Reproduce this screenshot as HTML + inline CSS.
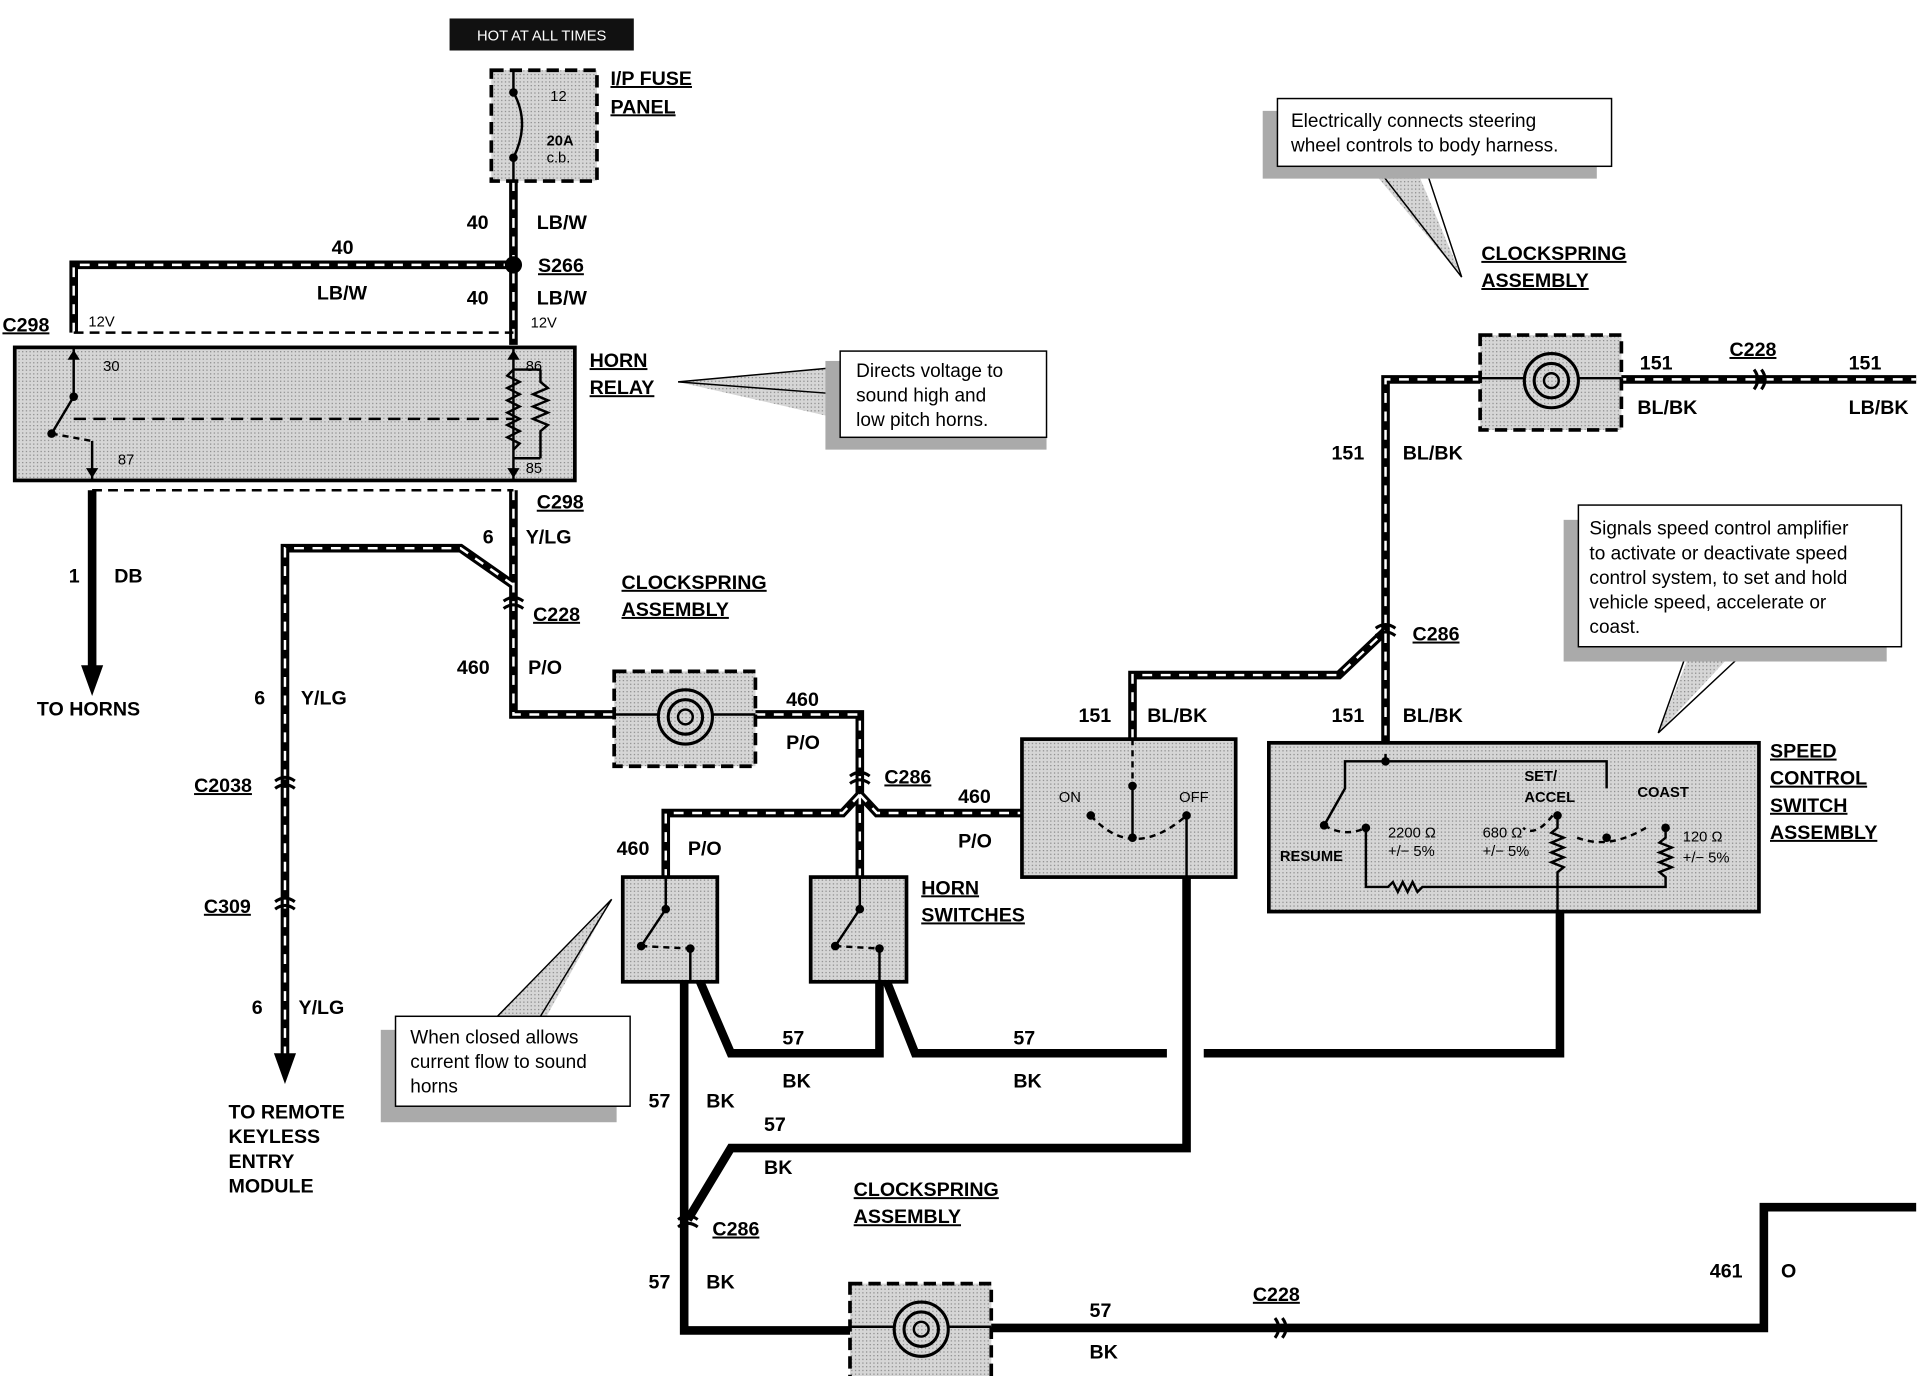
<!DOCTYPE html>
<html><head><meta charset="utf-8"><style>
html,body{margin:0;padding:0;background:#fff;}
svg{display:block;}
text{font-family:"Liberation Sans",Arial,sans-serif;fill:#000;}
.b{font-weight:bold;font-size:16px;}
.u{text-decoration:underline;}
.s{font-size:12px;}
.c{font-size:15.5px;}
</style></head><body>
<svg width="1926" height="1376" viewBox="0 0 1568 1117" preserveAspectRatio="none" xmlns="http://www.w3.org/2000/svg">
<defs>
<pattern id="dot" width="3" height="3" patternUnits="userSpaceOnUse"><rect width="3" height="3" fill="#d6d6d6"/><rect width="1" height="1" fill="#888"/></pattern>
</defs>
<rect width="1568" height="1117" fill="#fff"/>

<g fill="none" stroke-linejoin="miter">
<g stroke="#000" stroke-width="7">
<path d="M418 147 V280 M60 270 V215 H418"/>
<path d="M418 398 V580 H500 M418 475 L375 445 H232 V860"/>
<path d="M615 580 H700 V660 M700 645 L686 660 H542 V712 M700 645 V712 M700 645 L714 660 H832"/>
<path d="M922 600 V548 H1090 L1128 512 M1128 612 V308 H1205 M1316 308 H1560"/>
</g>
<g stroke="#fff" stroke-width="2" stroke-dasharray="8 7">
<path d="M418 147 V280 M60 270 V215 H418"/>
<path d="M418 398 V580 H500 M418 475 L375 445 H232 V860"/>
<path d="M615 580 H700 V660 M700 645 L686 660 H542 V712 M700 645 V712 M700 645 L714 660 H832"/>
<path d="M922 600 V548 H1090 L1128 512 M1128 612 V308 H1205 M1316 308 H1560"/>
</g>
<g stroke="#000" stroke-width="7">
<path d="M75 398 V545"/>
<path d="M557 797 V1080 H692 M806 1078 H1436 V980 H1560"/>
<path d="M570 797 L595 855 H716 V797 M722 797 L745 855 H950 M980 855 H1270 V740"/>
<path d="M966 712 V932 H595 L560 990"/>
</g>
</g>
<polygon points="66,540 84,540 75,565" fill="#000"/>
<polygon points="223,855 241,855 232,880" fill="#000"/>
<g stroke="#000" stroke-width="2" stroke-dasharray="8 5" fill="none">
<path d="M60 270 H418 M75 398 H418"/>
</g>

<g fill="none" stroke="#000" stroke-width="2.5">
<path d="M410 488 Q418 482 426 488 M410 494 Q418 488 426 494"/>
<path d="M224 634 Q232 628 240 634 M224 640 Q232 634 240 640"/>
<path d="M224 732 Q232 726 240 732 M224 738 Q232 732 240 738"/>
<path d="M692 630 Q700 624 708 630 M692 636 Q700 630 708 636"/>
<path d="M1120 510 Q1128 504 1136 510 M1120 516 Q1128 510 1136 516"/>
<path d="M552 990 Q560 984 568 990 M552 996 Q560 990 568 996"/>
<path d="M1428 300 Q1434 308 1428 316 M1434 300 Q1440 308 1434 316"/>
<path d="M1038 1070 Q1044 1078 1038 1086 M1044 1070 Q1050 1078 1044 1086"/>
</g>
<circle cx="418" cy="215" r="7" fill="#000"/>

<rect x="366" y="15" width="150" height="26" fill="#111"/>
<text x="441" y="33" text-anchor="middle" font-size="12" style="fill:#fff">HOT AT ALL TIMES</text>

<rect x="400" y="57" width="86" height="90" fill="url(#dot)" stroke="#000" stroke-width="3" stroke-dasharray="10 5"/>
<path d="M418 57 V75 M418 128 V147" stroke="#000" stroke-width="2"/>
<path d="M418 75 Q432 100 418 128" fill="none" stroke="#000" stroke-width="2"/>
<circle cx="418" cy="75" r="3.5"/><circle cx="418" cy="128" r="3.5"/>
<text x="448" y="82" class="s">12</text><text x="445" y="118" class="s" font-weight="bold">20A</text><text x="445" y="132" class="s">c.b.</text>
<text x="497" y="69" class="b u">I/P FUSE</text><text x="497" y="92" class="b u">PANEL</text>

<text x="380" y="186" class="b">40</text><text x="437" y="186" class="b">LB/W</text>
<text x="270" y="206" class="b">40</text><text x="258" y="243" class="b">LB/W</text>
<text x="380" y="247" class="b">40</text><text x="437" y="247" class="b">LB/W</text>
<text x="438" y="221" class="b u">S266</text>
<text x="2" y="269" class="b u">C298</text>
<text x="72" y="265" class="s">12V</text><text x="432" y="266" class="s">12V</text>

<rect x="12" y="282" width="456" height="108" fill="url(#dot)" stroke="#000" stroke-width="3"/>
<g stroke="#000" stroke-width="2" fill="none">
<path d="M60 282 V322 L42 352 M75 358 V390"/>
<path d="M42 352 L75 358" stroke-dasharray="5 4"/>
<path d="M418 282 V390 M418 300 H440 M418 372 H440 M440 300 V310 l6 5 l-12 5 l12 5 l-12 5 l12 5 l-12 5 l12 5 l-6 5 V372"/>
<path d="M418 300 l-5 5 l10 5 l-10 5 l10 5 l-10 5 l10 5 l-10 5 l10 5 l-10 5 l10 5 l-10 5 l10 5 l-5 5" />
<path d="M60 340 H418" stroke-dasharray="10 6"/>
</g>
<circle cx="60" cy="322" r="3.5"/><circle cx="42" cy="352" r="3.5"/>
<polygon points="55,292 65,292 60,284"/><polygon points="70,380 80,380 75,388"/>
<polygon points="413,292 423,292 418,284"/><polygon points="413,380 423,380 418,388"/>
<text x="84" y="301" class="s">30</text><text x="96" y="377" class="s">87</text>
<text x="428" y="301" class="s">86</text><text x="428" y="384" class="s">85</text>
<text x="480" y="298" class="b u">HORN</text><text x="480" y="320" class="b u">RELAY</text>

<polygon points="552,310 684,298 684,340" fill="url(#dot)"/>
<path d="M552 310 L684 298 M552 310 L684 320" stroke="#000" stroke-width="1.2" fill="none"/>
<rect x="672" y="293" width="180" height="72" fill="#aaa"/>
<rect x="684" y="285" width="168" height="70" fill="#fff" stroke="#000" stroke-width="1.2"/>
<text x="697" y="306" class="c">Directs voltage to</text>
<text x="697" y="326" class="c">sound  high  and</text>
<text x="697" y="346" class="c">low pitch horns.</text>

<text x="437" y="413" class="b u">C298</text>
<text x="393" y="441" class="b">6</text><text x="428" y="441" class="b">Y/LG</text>
<text x="56" y="473" class="b">1</text><text x="93" y="473" class="b">DB</text>
<text x="30" y="581" class="b">TO HORNS</text>
<text x="434" y="504" class="b u">C228</text>
<text x="372" y="547" class="b">460</text><text x="430" y="547" class="b">P/O</text>
<text x="506" y="478" class="b u">CLOCKSPRING</text><text x="506" y="500" class="b u">ASSEMBLY</text>
<text x="207" y="572" class="b">6</text><text x="245" y="572" class="b">Y/LG</text>
<text x="158" y="643" class="b u">C2038</text>
<text x="166" y="741" class="b u">C309</text>
<text x="205" y="823" class="b">6</text><text x="243" y="823" class="b">Y/LG</text>
<text x="186" y="908" class="b">TO REMOTE</text><text x="186" y="928" class="b">KEYLESS</text><text x="186" y="948" class="b">ENTRY</text><text x="186" y="968" class="b">MODULE</text>

<g id="cs">
<rect x="500" y="545" width="115" height="77" fill="url(#dot)" stroke="#000" stroke-width="3" stroke-dasharray="10 5"/>
<path d="M500 580 H536 M580 580 H615" stroke="#000" stroke-width="2"/>
<circle cx="558" cy="582" r="22" fill="none" stroke="#000" stroke-width="2.5"/>
<circle cx="558" cy="582" r="14" fill="none" stroke="#000" stroke-width="2.5"/>
<circle cx="558" cy="582" r="6" fill="none" stroke="#000" stroke-width="2"/>
</g>
<use href="#cs" transform="translate(705,-273)"/>
<use href="#cs" transform="translate(192,497)"/>

<text x="640" y="573" class="b">460</text><text x="640" y="608" class="b">P/O</text>
<text x="720" y="636" class="b u">C286</text>
<text x="780" y="652" class="b">460</text><text x="780" y="688" class="b">P/O</text>
<text x="502" y="694" class="b">460</text><text x="560" y="694" class="b">P/O</text>

<g stroke="#000" stroke-width="3">
<rect x="507" y="712" width="77" height="85" fill="url(#dot)"/>
<rect x="660" y="712" width="78" height="85" fill="url(#dot)"/>
</g>
<g stroke="#000" stroke-width="2" fill="none">
<path d="M542 712 V738 L522 768 M562 770 V797"/>
<path d="M522 768 L562 770" stroke-dasharray="5 4"/>
<path d="M700 712 V738 L680 768 M716 770 V797"/>
<path d="M680 768 L716 770" stroke-dasharray="5 4"/>
</g>
<circle cx="542" cy="738" r="3.5"/><circle cx="522" cy="768" r="3.5"/><circle cx="562" cy="770" r="3.5"/>
<circle cx="700" cy="738" r="3.5"/><circle cx="680" cy="768" r="3.5"/><circle cx="716" cy="770" r="3.5"/>
<text x="750" y="726" class="b u">HORN</text><text x="750" y="748" class="b u">SWITCHES</text>

<polygon points="498,730 405,825 445,825" fill="url(#dot)"/>
<path d="M498 730 L405 825 M498 730 L440 825" stroke="#000" stroke-width="1.2" fill="none"/>
<rect x="310" y="836" width="192" height="75" fill="#aaa"/>
<rect x="322" y="825" width="191" height="73" fill="#fff" stroke="#000" stroke-width="1.2"/>
<text x="334" y="847" class="c">When  closed  allows</text>
<text x="334" y="867" class="c">current flow to sound</text>
<text x="334" y="887" class="c">horns</text>

<rect x="832" y="600" width="174" height="112" fill="url(#dot)" stroke="#000" stroke-width="3"/>
<g stroke="#000" stroke-width="2" fill="none">
<path d="M922 600 V638 M888 662 Q922 700 966 662" stroke-dasharray="5 4"/>
<path d="M922 638 V680 M966 662 V712"/>
</g>
<circle cx="922" cy="638" r="3.5"/><circle cx="888" cy="662" r="3.5"/><circle cx="966" cy="662" r="3.5"/><circle cx="922" cy="680" r="3.5"/>
<text x="862" y="651" class="s">ON</text><text x="960" y="651" class="s">OFF</text>
<text x="878" y="586" class="b">151</text><text x="934" y="586" class="b">BL/BK</text>
<text x="1084" y="586" class="b">151</text><text x="1142" y="586" class="b">BL/BK</text>
<text x="1150" y="520" class="b u">C286</text>
<text x="1084" y="373" class="b">151</text><text x="1142" y="373" class="b">BL/BK</text>
<text x="1335" y="300" class="b">151</text><text x="1333" y="336" class="b">BL/BK</text>
<text x="1408" y="289" class="b u">C228</text>
<text x="1505" y="300" class="b">151</text><text x="1505" y="336" class="b">LB/BK</text>
<text x="1206" y="211" class="b u">CLOCKSPRING</text><text x="1206" y="233" class="b u">ASSEMBLY</text>

<polygon points="1190,225 1110,130 1150,130" fill="url(#dot)"/>
<path d="M1190 225 L1120 135 M1190 225 L1160 135" stroke="#000" stroke-width="1.2" fill="none"/>
<rect x="1028" y="90" width="272" height="55" fill="#aaa"/>
<rect x="1040" y="80" width="272" height="55" fill="#fff" stroke="#000" stroke-width="1.2"/>
<text x="1051" y="103" class="c">Electrically   connects   steering</text>
<text x="1051" y="123" class="c">wheel controls to body harness.</text>

<rect x="1033" y="603" width="399" height="137" fill="url(#dot)" stroke="#000" stroke-width="3"/>
<g stroke="#000" stroke-width="2" fill="none">
<path d="M1128 612 V618 H1095 V640 L1078 670 M1128 618 H1308 V640"/>
<path d="M1078 670 Q1095 680 1112 672 M1284 680 Q1310 690 1340 672 M1264 662 Q1250 680 1240 672" stroke-dasharray="5 4"/>
<path d="M1112 672 V720 H1130 l4 -4 l4 8 l4 -8 l4 8 l4 -8 l4 8 l4 -4 H1268 V740"/>
<path d="M1268 662 V672 l-5 4 l10 4 l-10 4 l10 4 l-10 4 l10 4 l-10 4 l10 4 l-5 4 V720"/>
<path d="M1356 672 V680 l-5 4 l10 4 l-10 4 l10 4 l-10 4 l10 4 l-10 4 l5 4 V720 H1268"/>
</g>
<circle cx="1128" cy="618" r="3.5"/><circle cx="1078" cy="670" r="3.5"/><circle cx="1112" cy="672" r="3.5"/>
<circle cx="1268" cy="662" r="3.5"/><circle cx="1308" cy="680" r="3.5"/><circle cx="1356" cy="672" r="3.5"/>
<text x="1042" y="699" class="s" font-weight="bold">RESUME</text>
<text x="1130" y="680" class="s">2200 Ω</text><text x="1130" y="695" class="s">+/− 5%</text>
<text x="1207" y="680" class="s">680 Ω</text><text x="1207" y="695" class="s">+/− 5%</text>
<text x="1241" y="634" class="s" font-weight="bold">SET/</text><text x="1241" y="651" class="s" font-weight="bold">ACCEL</text>
<text x="1333" y="647" class="s" font-weight="bold">COAST</text>
<text x="1370" y="683" class="s">120 Ω</text><text x="1370" y="700" class="s">+/− 5%</text>
<text x="1441" y="615" class="b u">SPEED</text><text x="1441" y="637" class="b u">CONTROL</text><text x="1441" y="659" class="b u">SWITCH</text><text x="1441" y="681" class="b u">ASSEMBLY</text>

<polygon points="1350,595 1380,520 1420,520" fill="url(#dot)"/>
<path d="M1350 595 L1375 525 M1350 595 L1425 525" stroke="#000" stroke-width="1.2" fill="none"/>
<rect x="1273" y="422" width="263" height="115" fill="#aaa"/>
<rect x="1285" y="410" width="263" height="115" fill="#fff" stroke="#000" stroke-width="1.2"/>
<text x="1294" y="434" class="c">Signals speed control amplifier</text>
<text x="1294" y="454" class="c">to activate or deactivate speed</text>
<text x="1294" y="474" class="c">control system, to set and hold</text>
<text x="1294" y="494" class="c">vehicle  speed,  accelerate  or</text>
<text x="1294" y="514" class="c">coast.</text>

<text x="637" y="848" class="b">57</text><text x="637" y="883" class="b">BK</text>
<text x="825" y="848" class="b">57</text><text x="825" y="883" class="b">BK</text>
<text x="528" y="899" class="b">57</text><text x="575" y="899" class="b">BK</text>
<text x="622" y="918" class="b">57</text><text x="622" y="953" class="b">BK</text>
<text x="580" y="1003" class="b u">C286</text>
<text x="528" y="1046" class="b">57</text><text x="575" y="1046" class="b">BK</text>
<text x="695" y="971" class="b u">CLOCKSPRING</text><text x="695" y="993" class="b u">ASSEMBLY</text>
<text x="887" y="1069" class="b">57</text><text x="887" y="1103" class="b">BK</text>
<text x="1020" y="1056" class="b u">C228</text>
<text x="1392" y="1037" class="b">461</text><text x="1450" y="1037" class="b">O</text>
</svg>
</body></html>
